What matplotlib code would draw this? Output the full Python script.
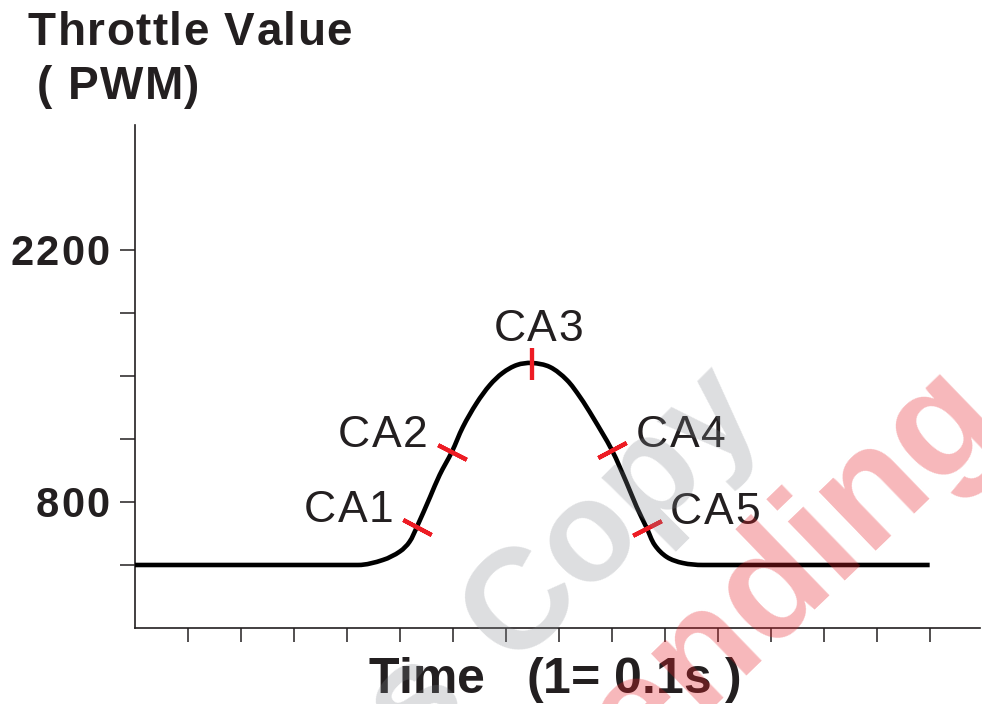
import numpy as np
import matplotlib
matplotlib.use("Agg")
import matplotlib.pyplot as plt
from matplotlib.path import Path
from matplotlib.patches import PathPatch
from matplotlib.font_manager import FontProperties

plt.rcParams['font.family'] = ['Liberation Sans', 'DejaVu Sans']

# throttle curve (time in units of 0.1 s, PWM value)
t = [0, 4.21, 4.68, 5.00, 5.18, 5.32, 5.57, 5.75, 5.98, 6.19, 6.45, 6.70, 6.94,
     7.21, 7.49, 7.83, 8.15, 8.40, 8.64, 9.00, 9.28, 9.47, 9.66, 9.81, 10.04,
     10.34, 10.72, 15]
pwm = [450, 450, 478, 525, 578, 661, 828, 950, 1078, 1217, 1350, 1450, 1517,
       1561, 1572, 1550, 1478, 1383, 1272, 1089, 906, 772, 655, 561, 494,
       461, 450, 450]

# control points along the curve
ca_names = ['CA1', 'CA2', 'CA3', 'CA4', 'CA5']
ca_t = [5.32, 5.98, 7.50, 9.00, 9.66]
ca_pwm = [661, 1078, 1568, 1089, 655]
ca_angle = [-28, -27, 90, 28, 27]            # direction of the red tick (deg)
ca_off = [(-68, 21), (-69, 21), (6, 39), (69, 19), (68, 20)]   # label offset, px

y_ticks = [450, 800, 1150, 1500, 1850, 2200]
y_named = [800, 2200]
x_ticks = list(range(1, 16))

W, H = 982, 704
fig = plt.figure(figsize=(W / 100, H / 100), dpi=100)
ax = fig.add_axes([135 / W, 1 - 628 / H, 845 / W, 503 / H])
ax.set_xlim(0, 15.95)
ax.set_ylim(100, 2894)
ink = '#231f20'


def smooth_path(xs, ys, sx, sy):
    # cubic bezier through the points; tangents worked out in pixel units
    P = np.column_stack([np.asarray(xs) * sx, np.asarray(ys) * sy])
    n = len(P)
    tang = np.zeros_like(P)
    for i in range(n):
        if i == 0:
            d = P[1] - P[0]
        elif i == n - 1:
            d = P[-1] - P[-2]
        elif P[i - 1, 1] == P[i, 1] or P[i + 1, 1] == P[i, 1]:
            d = np.array([1.0, 0.0])
        else:
            d = P[i + 1] - P[i - 1]
        tang[i] = d / np.hypot(*d)
    verts, codes = [P[0]], [Path.MOVETO]
    for i in range(n - 1):
        L = np.hypot(*(P[i + 1] - P[i])) / 3
        verts += [P[i] + tang[i] * L, P[i + 1] - tang[i + 1] * L, P[i + 1]]
        codes += [Path.CURVE4] * 3
    V = np.array(verts) / [sx, sy]
    return Path(V, codes)


ax.add_patch(PathPatch(smooth_path(t, pwm, 53.0, 63 / 350), fill=False,
                       ec='black', lw=3.3, joinstyle='round', zorder=3))

for x, y, ang in zip(ca_t, ca_pwm, ca_angle):
    ax.plot(x, y, marker=(2, 2, ang - 90), markersize=23, markeredgewidth=3,
            color='#ed1c24', zorder=4)

ax.set_xticks(x_ticks)
ax.set_xticklabels([])
ax.set_yticks(y_ticks)
ax.set_yticklabels([])
ax.tick_params(axis='x', direction='out', length=10, width=1.1, color=ink)
ax.tick_params(axis='y', direction='out', length=11, width=1.1, color=ink)
for s in ['top', 'right']:
    ax.spines[s].set_visible(False)
for s in ['left', 'bottom']:
    ax.spines[s].set_linewidth(1.2)
    ax.spines[s].set_color(ink)

renderer = fig.canvas.get_renderer()


def spaced_text(x, y, s, size, track, ha='left', weight='normal', family=None, **kw):
    # x, y: pixels from the top-left, y on the baseline; track: extra px per char
    prop = FontProperties(family=family or plt.rcParams['font.family'],
                          weight=weight, size=size)
    widths = [renderer.get_text_width_height_descent(c, prop, ismath=False)[0]
              for c in s]
    total = sum(widths) + track * (len(s) - 1)
    x0 = x - {'left': 0, 'center': total / 2, 'right': total}[ha]
    for c, w in zip(s, widths):
        fig.text(x0 / W, 1 - y / H, c, fontproperties=prop, ha='left',
                 va='baseline', **kw)
        x0 += w + track


# axis titles
spaced_text(28, 45, 'Throttle Value', 33, 1.4, weight='bold', color=ink)
spaced_text(37, 99, '( PWM)', 33, 1.4, weight='bold', color=ink)
spaced_text(555, 693, 'Time   (1= 0.1s )', 36, 0, ha='center', weight='bold', color=ink)

# y tick labels
for v in y_named:
    py = ax.transData.transform((0, v))[1]
    spaced_text(110, H - py + 15, str(v), 30, 2.5, ha='right', weight='bold', color=ink)

# point labels
for name, x, y, (dx, dy) in zip(ca_names, ca_t, ca_pwm, ca_off):
    px, py = ax.transData.transform((x, y))
    spaced_text(px + dx, H - py - dy + 16, name, 32, 1.5, ha='center', color=ink)

# watermarks
grey = dict(fontsize=103, fontweight='bold', rotation=45, rotation_mode='anchor',
            ha='center', va='center', color=(0.5, 0.52, 0.55), alpha=0.27, zorder=10)
fig.text(612 / W, 1 - 515 / H, 'Copy', **grey)
fig.text(416 / W, 1 - 701 / H, 's', **grey)
fig.text(755 / W, 1 - 602 / H, 'Pending', fontsize=112, fontweight='bold', rotation=44,
         rotation_mode='anchor', ha='center', va='center', color=(0.91, 0.13, 0.16),
         alpha=0.32, zorder=10)

fig.savefig('out.png', dpi=100)
